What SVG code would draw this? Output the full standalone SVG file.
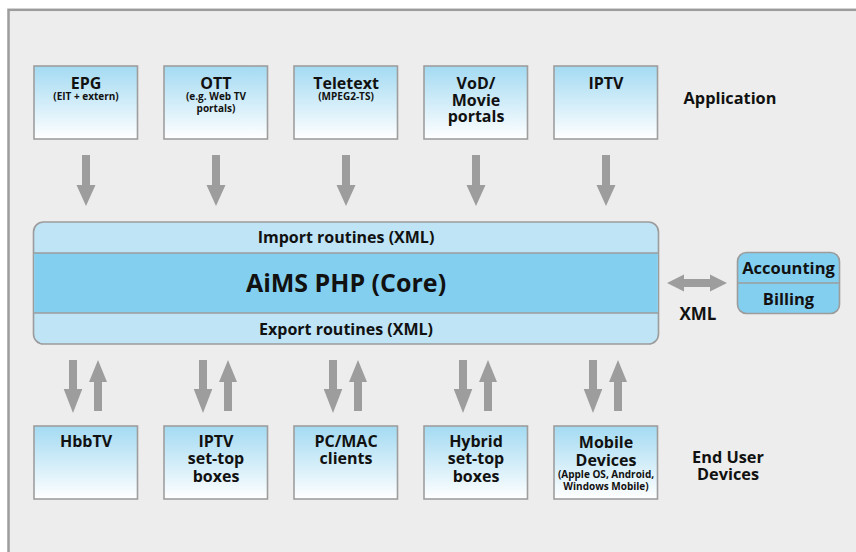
<svg xmlns="http://www.w3.org/2000/svg" width="856" height="552" viewBox="0 0 856 552">
<defs>
<linearGradient id="boxg" x1="0" y1="0" x2="0" y2="1">
<stop offset="0" stop-color="#a3daf2"/>
<stop offset="1" stop-color="#ffffff"/>
</linearGradient>
</defs>
<style>
.frame{fill:#ecedec;stroke:#9c9c9c;stroke-width:2.5}
.box{fill:url(#boxg);stroke:#9e9e9e;stroke-width:1.6}
.arr{fill:#9d9d9d}
text{font-family:"Open Sans","Liberation Sans",Arial,sans-serif;font-weight:bold;fill:#111;text-anchor:middle}
.t{font-size:16px}
.s{font-size:10px}
.lbl{font-size:16.3px}
.band{font-size:16px}
.core{font-size:25px}
.acc{font-size:16.5px}
</style>
<rect x="0" y="0" width="856" height="552" fill="#ffffff"/>
<rect class="frame" x="8.5" y="9.8" width="860" height="560"/>

<g id="connectors">
<path class="arr" d="M82,155 H90 V185 H95.5 L86,206 L76.5,185 H82 Z"/>
<path class="arr" d="M212,155 H220 V185 H225.5 L216,206 L206.5,185 H212 Z"/>
<path class="arr" d="M342,155 H350 V185 H355.5 L346,206 L336.5,185 H342 Z"/>
<path class="arr" d="M472,155 H480 V185 H485.5 L476,206 L466.5,185 H472 Z"/>
<path class="arr" d="M602,155 H610 V185 H615.5 L606,206 L596.5,185 H602 Z"/>

<path id="pair1" class="arr" d="M69,360 H77 V389 H82.3 L73,413 L63.7,389 H69 Z M94,411 H102 V382 H107 L98,360 L89,382 H94 Z"/>
<use href="#pair1" x="130"/>
<use href="#pair1" x="260"/>
<use href="#pair1" x="390"/>
<use href="#pair1" x="520"/>

<path class="arr" d="M667,283 L684,274.5 V279 H710 V274.5 L727,283 L710,291.5 V287 H684 V291.5 Z"/>
<text class="acc" x="698" y="320" style="font-size:17px">XML</text>
</g>

<g id="epg"><rect class="box" x="34" y="66" width="103.5" height="73"/><text class="t" x="86" y="89">EPG<tspan class="s" x="86" y="100">(EIT + extern)</tspan></text></g>
<g id="ott"><rect class="box" x="164" y="66" width="103.5" height="73"/><text class="t" x="216" y="89">OTT<tspan class="s" x="216" y="100">(e.g. Web TV</tspan><tspan class="s" x="216" y="111.5">portals)</tspan></text></g>
<g id="teletext"><rect class="box" x="294" y="66" width="103.5" height="73"/><text class="t" x="346" y="89">Teletext<tspan class="s" x="346" y="100">(MPEG2-TS)</tspan></text></g>
<g id="vod"><rect class="box" x="424" y="66" width="103.5" height="73"/><text class="t" x="476" y="89">VoD/<tspan x="476" y="105.5">Movie</tspan><tspan x="476" y="121.5">portals</tspan></text></g>
<g id="iptv"><rect class="box" x="554" y="66" width="103.5" height="73"/><text class="t" x="606" y="89">IPTV</text></g>
<text class="lbl" x="730" y="104">Application</text>

<g id="core">
<rect x="33.5" y="222" width="625" height="122" rx="10" fill="#bee4f6" stroke="#9c9c9c" stroke-width="1.6"/>
<rect x="34.3" y="253" width="623.4" height="60" fill="#83cfef"/>
<line x1="34" y1="253" x2="658" y2="253" stroke="#9c9c9c" stroke-width="1.4"/>
<line x1="34" y1="313" x2="658" y2="313" stroke="#9c9c9c" stroke-width="1.4"/>
<text class="band" x="346" y="243">Import routines (XML)</text>
<text class="core" x="346" y="292">AiMS PHP (Core)</text>
<text class="band" x="346" y="334.5">Export routines (XML)</text>
</g>

<g id="accounting">
<rect x="737.5" y="252.5" width="102" height="61" rx="9" fill="#83cfef" stroke="#9c9c9c" stroke-width="1.6"/>
<line x1="738" y1="283" x2="839" y2="283" stroke="#9c9c9c" stroke-width="1.4"/>
<text class="acc" x="788.5" y="273.5">Accounting</text>
<text class="acc" x="788.5" y="304.5">Billing</text>
</g>

<g id="hbbtv"><rect class="box" x="34" y="426" width="103.5" height="73"/><text class="t" x="86" y="447">HbbTV</text></g>
<g id="iptvstb"><rect class="box" x="164" y="426" width="103.5" height="73"/><text class="t" x="216" y="447">IPTV<tspan x="216" y="464">set-top</tspan><tspan x="216" y="481.5">boxes</tspan></text></g>
<g id="pcmac"><rect class="box" x="294" y="426" width="103.5" height="73"/><text class="t" x="346" y="447">PC/MAC<tspan x="346" y="464">clients</tspan></text></g>
<g id="hybrid"><rect class="box" x="424" y="426" width="103.5" height="73"/><text class="t" x="476" y="447">Hybrid<tspan x="476" y="464">set-top</tspan><tspan x="476" y="481.5">boxes</tspan></text></g>
<g id="mobile"><rect class="box" x="554" y="426" width="103.5" height="73"/><text class="t" x="606" y="448">Mobile<tspan x="606" y="465.5">Devices</tspan><tspan class="s" x="606" y="478">(Apple OS, Android,</tspan><tspan class="s" x="606" y="489.5">Windows Mobile)</tspan></text></g>
<text class="lbl" x="728" y="463">End User<tspan x="728" y="480">Devices</tspan></text>
</svg>
